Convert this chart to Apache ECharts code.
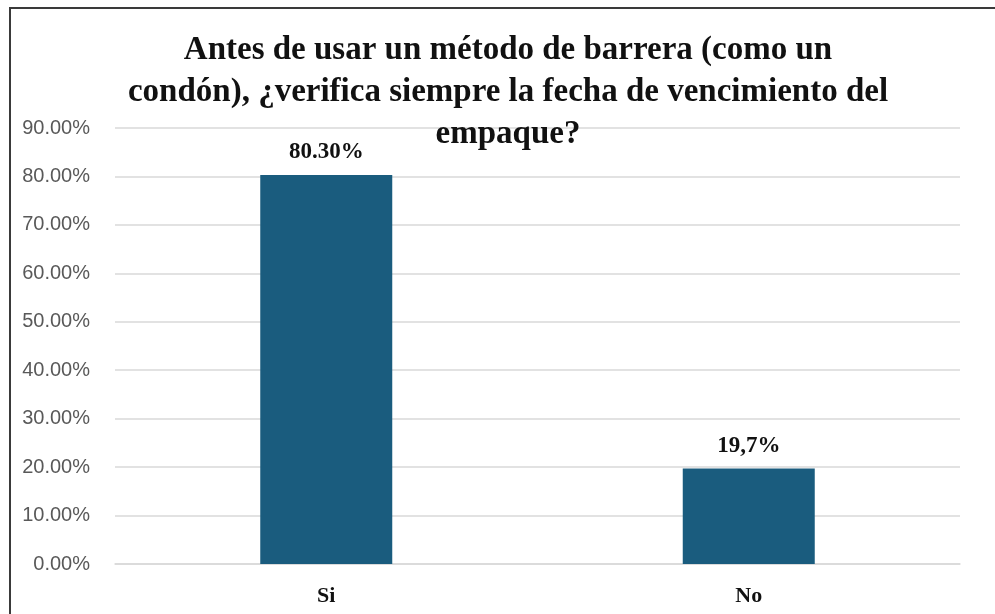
<!DOCTYPE html>
<html>
<head>
<meta charset="utf-8">
<script src="https://cdn.jsdelivr.net/npm/echarts@6/dist/echarts.min.js"></script>
<style>
    body { margin: 0; background: #fff; }
    #main { position: absolute; left: 0; top: 0; width: 995px; height: 614px; }
    #frame { position: absolute; left: 9px; top: 7px; width: 990px; height: 610px;
             border-left: 2px solid #3a3a3a; border-top: 2px solid #3a3a3a; pointer-events: none; }
</style>
</head>
<body>
<div id="main"></div>
<div id="frame"></div>
<script>
    // datos del grafico
    var categorias = ['Si', 'No'];
    var valores = [80.3, 19.7];
    var etiquetas = ['80.30%', '19,7%'];
    var titulo = 'Antes de usar un método de barrera (como un\ncondón), ¿verifica siempre la fecha de vencimiento del\nempaque?';

    var myChart = echarts.init(document.getElementById('main'));

    var option = {
        animation: false,
        title: {
            text: titulo,
            left: 508,
            top: 29,
            padding: 0,
            textAlign: 'center',
            textStyle: {
                fontFamily: 'Liberation Serif',
                fontWeight: 'bold',
                fontSize: 33,
                lineHeight: 42,
                color: '#111'
            }
        },
        grid: { left: 115, right: 35, top: 128, bottom: 50 },
        xAxis: {
            type: 'category',
            data: categorias,
            axisLine: { lineStyle: { color: '#d9d9d9', width: 1.5 } },
            axisTick: { show: false },
            axisLabel: {
                margin: 21,
                fontFamily: 'Liberation Serif',
                fontWeight: 'bold',
                fontSize: 22,
                color: '#111'
            }
        },
        yAxis: {
            type: 'value',
            min: 0,
            max: 90,
            interval: 10,
            axisLine: { show: false },
            axisTick: { show: false },
            splitLine: { lineStyle: { color: '#d9d9d9', width: 1.5 } },
            axisLabel: {
                margin: 25,
                fontFamily: 'Liberation Sans',
                fontSize: 20,
                color: '#595959',
                formatter: function (v) { return v.toFixed(2) + '%'; }
            }
        },
        series: [{
            type: 'bar',
            data: valores,
            barWidth: 132,
            itemStyle: { color: '#1a5c7e' },
            label: {
                show: true,
                position: 'top',
                distance: 11,
                fontFamily: 'Liberation Serif',
                fontWeight: 'bold',
                fontSize: 23,
                color: '#111',
                formatter: function (p) { return etiquetas[p.dataIndex]; }
            }
        }]
    };

    myChart.setOption(option);
</script>
</body>
</html>
